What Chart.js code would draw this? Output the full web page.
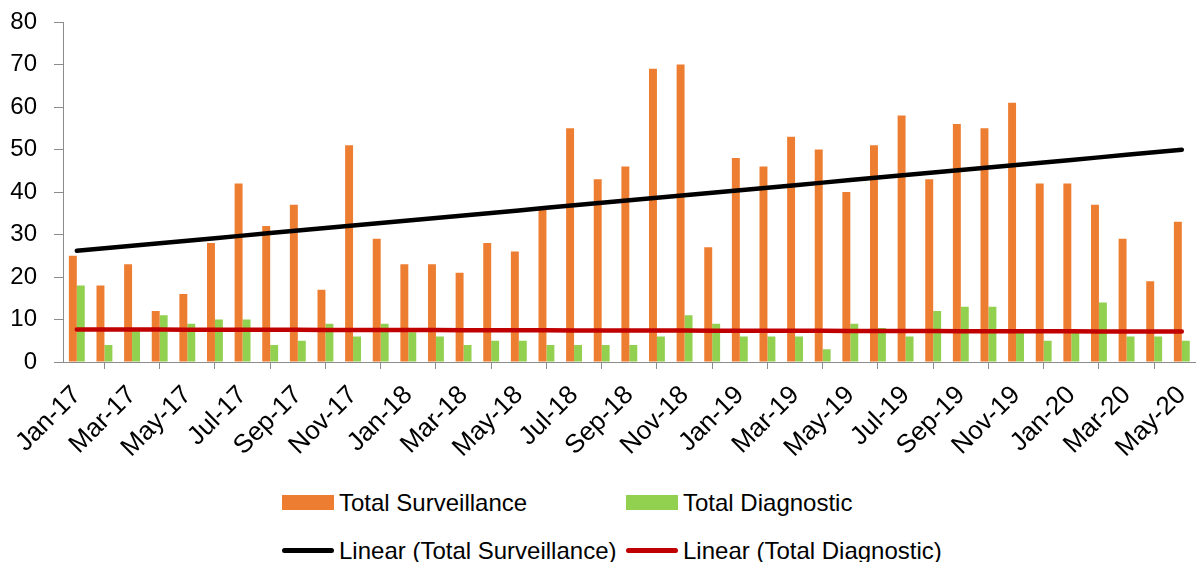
<!DOCTYPE html>
<html>
<head>
<meta charset="utf-8">
<script src="https://cdn.jsdelivr.net/npm/chart.js@4.4.1/dist/chart.umd.min.js"></script>
<style>
  html, body { margin: 0; padding: 0; background: #fff; overflow: hidden; width: 1200px; height: 562px; }
  #wrap { position: absolute; left: 0; top: 0; width: 1215px; height: 480px; }
  #legend {
    position: absolute; left: 282px; top: 488px;
    display: grid; grid-template-columns: 344px 344px; row-gap: 19px;
    font-family: "Liberation Sans", Arial, sans-serif; font-size: 24px; color: #000;
  }
  .item { display: flex; align-items: center; height: 29px; white-space: nowrap; }
  .sw { display: inline-block; width: 52px; margin-right: 5px; }
</style>
</head>
<body>
<div id="wrap"><canvas id="chartCanvas" width="1215" height="480"></canvas></div>
<div id="legend"></div>
<script>
"use strict";

const months = [
  "Jan-17", "Feb-17", "Mar-17", "Apr-17", "May-17", "Jun-17", "Jul-17", "Aug-17", "Sep-17", "Oct-17", "Nov-17", "Dec-17",
  "Jan-18", "Feb-18", "Mar-18", "Apr-18", "May-18", "Jun-18", "Jul-18", "Aug-18", "Sep-18", "Oct-18", "Nov-18", "Dec-18",
  "Jan-19", "Feb-19", "Mar-19", "Apr-19", "May-19", "Jun-19", "Jul-19", "Aug-19", "Sep-19", "Oct-19", "Nov-19", "Dec-19",
  "Jan-20", "Feb-20", "Mar-20", "Apr-20", "May-20"
];

const surveillance = [
  25, 18, 23, 12, 16, 28, 42, 32, 37, 17, 51, 29,
  23, 23, 21, 28, 26, 36, 55, 43, 46, 69, 70, 27,
  48, 46, 53, 50, 40, 51, 58, 43, 56, 55, 61, 42,
  42, 37, 29, 19, 33
];

const diagnostic = [
  18, 4, 8, 11, 9, 10, 10, 4, 5, 9, 6, 9,
  7, 6, 4, 5, 5, 4, 4, 4, 4, 6, 11, 9,
  6, 6, 6, 3, 9, 8, 6, 12, 13, 13, 7, 5,
  7, 14, 6, 6, 5
];

const yTicks = { min: 0, max: 80, step: 10 };

// least squares trend, same as Excel's "Linear" trendline
function linearTrend(values) {
  const n = values.length;
  let sx = 0, sy = 0, sxy = 0, sxx = 0;
  values.forEach((v, i) => { sx += i; sy += v; sxy += i * v; sxx += i * i; });
  const slope = (n * sxy - sx * sy) / (n * sxx - sx * sx);
  const icpt = (sy - slope * sx) / n;
  return values.map((_, i) => icpt + slope * i);
}

const FONT = "'Liberation Sans', Arial, sans-serif";
const AXIS_GREY = "#8c8c8c";

Chart.defaults.font.family = FONT;
Chart.defaults.font.size = 24;
Chart.defaults.color = "#000";

const ctx = document.getElementById("chartCanvas").getContext("2d");

const chart = new Chart(ctx, {
  data: {
    labels: months,
    datasets: [
      {
        type: "bar",
        label: "Total Surveillance",
        data: surveillance,
        backgroundColor: "#ED7D31",
        barPercentage: 1,
        categoryPercentage: 0.575,
        order: 2,
      },
      {
        type: "bar",
        label: "Total Diagnostic",
        data: diagnostic,
        backgroundColor: "#92D050",
        barPercentage: 1,
        categoryPercentage: 0.575,
        order: 2,
      },
      {
        type: "line",
        label: "Linear (Total Surveillance)",
        data: linearTrend(surveillance),
        borderColor: "#000000",
        borderWidth: 4.5,
        borderCapStyle: "round",
        pointRadius: 0,
        order: 1,
      },
      {
        type: "line",
        label: "Linear (Total Diagnostic)",
        data: linearTrend(diagnostic),
        borderColor: "#C00000",
        borderWidth: 4.5,
        borderCapStyle: "round",
        pointRadius: 0,
        order: 1,
      },
    ],
  },
  options: {
    responsive: false,
    animation: false,
    layout: { padding: { top: 22, left: 0, right: 10, bottom: 0 } },
    plugins: {
      legend: { display: false },
      tooltip: { enabled: false },
    },
    scales: {
      x: {
        grid: {
          drawOnChartArea: false,
          tickLength: 7,
          color: AXIS_GREY,
          offset: true,
        },
        border: { color: AXIS_GREY, width: 1 },
        ticks: {
          autoSkip: false,
          maxRotation: 45,
          minRotation: 45,
          padding: 11,
          font: { size: 26 },
          // Excel shows every second month
          callback: function (value, index) {
            return index % 2 === 0 ? this.getLabelForValue(value) : null;
          },
        },
        afterFit: (scale) => { scale.height = 118; },
      },
      y: {
        min: yTicks.min,
        max: yTicks.max,
        grid: {
          drawOnChartArea: false,
          tickLength: 9,
          color: AXIS_GREY,
        },
        border: { color: AXIS_GREY, width: 1 },
        ticks: {
          stepSize: yTicks.step,
          padding: 17,
          font: { size: 24 },
        },
        afterFit: (scale) => {
          scale.width = 63;
          scale.paddingTop = 0;
          scale.paddingBottom = 0;
        },
      },
    },
  },
});

// legend laid out as a 2x2 grid like the Excel one
const legendEl = document.getElementById("legend");
chart.data.datasets.forEach((ds) => {
  const item = document.createElement("div");
  item.className = "item";
  const sw = document.createElement("span");
  sw.className = "sw";
  if (ds.type === "bar") {
    sw.style.height = "15px";
    sw.style.background = ds.backgroundColor;
  } else {
    sw.style.height = "5px";
    sw.style.borderRadius = "3px";
    sw.style.background = ds.borderColor;
  }
  const txt = document.createElement("span");
  txt.textContent = ds.label;
  item.appendChild(sw);
  item.appendChild(txt);
  legendEl.appendChild(item);
});
</script>
</body>
</html>
